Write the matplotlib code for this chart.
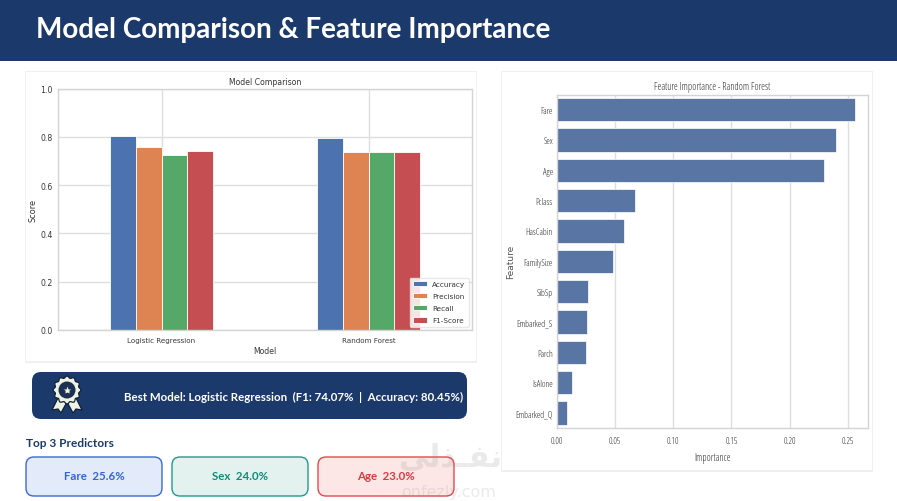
import numpy as np
import matplotlib
matplotlib.use("Agg")
import matplotlib.pyplot as plt
from matplotlib.patches import FancyBboxPatch, Rectangle, Circle, Polygon

W, H = 897, 502

models = ["Logistic Regression", "Random Forest"]
metrics = ["Accuracy", "Precision", "Recall", "F1-Score"]
accuracy = [0.8045, 0.797]
precision = [0.756, 0.736]
recall = [0.723, 0.736]
f1_score = [0.7407, 0.736]
metric_colors = ["#4c72b0", "#dd8452", "#55a868", "#c44e52"]

features = ["Fare", "Sex", "Age", "Pclass", "HasCabin", "FamilySize", "SibSp",
            "Embarked_S", "Parch", "IsAlone", "Embarked_Q"]
importance = [0.256, 0.240, 0.230, 0.067, 0.058, 0.048, 0.027, 0.026, 0.025, 0.0125, 0.009]

top_names = ["Fare", "Sex", "Age"]
top_values = ["25.6%", "24.0%", "23.0%"]

NAVY = "#1b3a6b"
GRID = "#dedede"
TXT = "#363636"
HEAD = dict(family="Lato", fontweight="bold", va="center")
NARROW = dict(family="Open Sans", stretch="condensed")


def px_axes(x0, y0, x1, y1, **kw):
    return fig.add_axes([x0 / W, 1 - y1 / H, (x1 - x0) / W, (y1 - y0) / H], **kw)


def rbox(ax, x0, y0, x1, y1, r, **kw):
    ax.add_patch(FancyBboxPatch((x0 + r, y0 + r), x1 - x0 - 2 * r, y1 - y0 - 2 * r,
                                boxstyle=f"round,pad={r},rounding_size={r}", **kw))


def style_axes(ax):
    ax.set_axisbelow(True)
    for s in ax.spines.values():
        s.set_color("#d4d4d4")
        s.set_linewidth(1.0)
    ax.tick_params(length=0)


fig = plt.figure(figsize=(W / 100, H / 100), dpi=100, facecolor="white")

# page furniture, drawn in pixel coordinates
bg = fig.add_axes([0, 0, 1, 1], zorder=0)
bg.set_xlim(0, W)
bg.set_ylim(H, 0)
bg.axis("off")

bg.add_patch(Rectangle((0, 0), W, 62, fc=NAVY, ec="none"))
bg.text(36, 30, "Model Comparison & Feature Importance", color="white", fontsize=20.1, **HEAD)

for x0, y0, x1, y1 in [(26, 73, 476, 362), (502, 73, 872, 471)]:
    bg.add_patch(Rectangle((x0 - 1, y0 - 1), x1 - x0 + 2, y1 - y0 + 3, fc="#f0f0f0", ec="none"))
    bg.add_patch(Rectangle((x0, y0), x1 - x0, y1 - y0, fc="white", ec="none"))

rbox(bg, 32, 373, 467, 420, 9, fc=NAVY, ec="none")
bg.text(124, 397, "Best Model: Logistic Regression  (F1: 74.07%  |  Accuracy: 80.45%)",
        color="white", fontsize=8.3, **HEAD)

# rosette icon
ic = "#eef2e2"
dark = "#10203a"
bg.add_patch(Polygon([(58, 399), (52, 411), (58, 410), (61, 414), (67, 403)], fc=ic, ec=dark, lw=0.9))
bg.add_patch(Polygon([(76, 399), (82, 411), (76, 410), (73, 414), (67, 403)], fc=ic, ec=dark, lw=0.9))
ang = np.linspace(0, 2 * np.pi, 73)
rad = 13 + 1.0 * np.cos(12 * ang)
bg.add_patch(Polygon(np.c_[67 + rad * np.cos(ang), 391 + rad * np.sin(ang)], fc=ic, ec=dark, lw=0.9))
bg.add_patch(Circle((67, 391), 8.5, fc="#1b2f55", ec="none"))
bg.plot([67], [391], marker="*", ms=6, color=ic, mec="none")

bg.text(26, 444, "Top 3 Predictors", color=NAVY, fontsize=8.6, **HEAD)

card_boxes = [(26, 162), (172, 308), (318, 454)]
card_face = ["#e3ebfb", "#e4f2ef", "#fde6e6"]
card_edge = ["#3b68d8", "#1f9a8a", "#e5484d"]
card_text = ["#3563d6", "#128a78", "#dc3a40"]
for (x0, x1), fc, ec, tc, n, v in zip(card_boxes, card_face, card_edge, card_text, top_names, top_values):
    rbox(bg, x0, 458, x1, 497, 8, fc=fc, ec=ec, lw=1.0)
    bg.text((x0 + x1) / 2, 477, f"{n}  {v}", color=tc, fontsize=8.3, ha="center", **HEAD)

# model comparison
ax = px_axes(58, 89.5, 472, 331, zorder=1)
x = np.arange(len(models))
bw = 0.125
for i, (name, vals, c) in enumerate(zip(metrics, [accuracy, precision, recall, f1_score], metric_colors)):
    ax.bar(x + (i - 1.5) * bw, vals, bw, color=c, edgecolor="white", linewidth=0.6, label=name)
ax.set_xlim(-0.5, 1.5)
ax.set_ylim(0, 1)
ax.set_xticks(x, models)
ax.set_yticks(np.arange(0, 1.01, 0.2))
ax.grid(True, color=GRID, lw=1.0)
style_axes(ax)
ax.tick_params(axis="y", labelsize=5.6, labelcolor=TXT, pad=4)
ax.tick_params(axis="x", labelsize=5.1, labelcolor=TXT, pad=5)
ax.set_title("Model Comparison", fontsize=5.6, color=TXT, pad=3)
ax.set_xlabel("Model", fontsize=5.6, color=TXT, labelpad=2)
ax.set_ylabel("Score", fontsize=5.9, color=TXT)
ax.yaxis.set_label_coords((38 - 58) / 414, 0.5)
ax.legend(loc="lower right", fontsize=5.2, labelcolor=TXT, framealpha=0.85, edgecolor="#e4e4e4",
          borderaxespad=0.45, handlelength=2.0, labelspacing=0.85, borderpad=0.45, handletextpad=0.7)

# feature importance
ax2 = px_axes(557, 95.5, 868, 429, zorder=1)
y = np.arange(len(features))
ax2.barh(y, importance, height=0.77, color="#5975a4", edgecolor="white", linewidth=0.5)
ax2.set_yticks(y, features, **NARROW)
ax2.set_ylim(len(features) - 0.5, -0.5)
ax2.set_xlim(0, 0.2675)
ax2.set_xticks(np.arange(0, 0.26, 0.05), [f"{v:.2f}" for v in np.arange(0, 0.26, 0.05)], **NARROW)
ax2.grid(True, axis="x", color=GRID, lw=1.0)
style_axes(ax2)
ax2.tick_params(axis="y", labelsize=6.4, labelcolor="#2a2a2a", pad=3)
ax2.tick_params(axis="x", labelsize=6.4, labelcolor="#2a2a2a", pad=6)
ax2.set_title("Feature Importance - Random Forest", fontsize=7, color="#2a2a2a", pad=4, **NARROW)
ax2.set_xlabel("Importance", fontsize=7, color="#2a2a2a", labelpad=5, **NARROW)
ax2.set_ylabel("Feature", fontsize=6.5, color="#555555")
ax2.yaxis.set_label_coords((515 - 557) / 311, 0.5)

# watermark
fig.text(450 / W, 1 - 458 / H, "\ufef2\ufedf\ufeac\u0640\ufed4\ufee7", fontsize=22, fontweight="bold",
         color="#888888", alpha=0.17, ha="center", va="center", zorder=5)
fig.text(449 / W, 1 - 493 / H, "onfezly.com", fontsize=11.5, color="#888888", alpha=0.17,
         ha="center", va="center", zorder=5)

fig.savefig("out.png", dpi=100)
